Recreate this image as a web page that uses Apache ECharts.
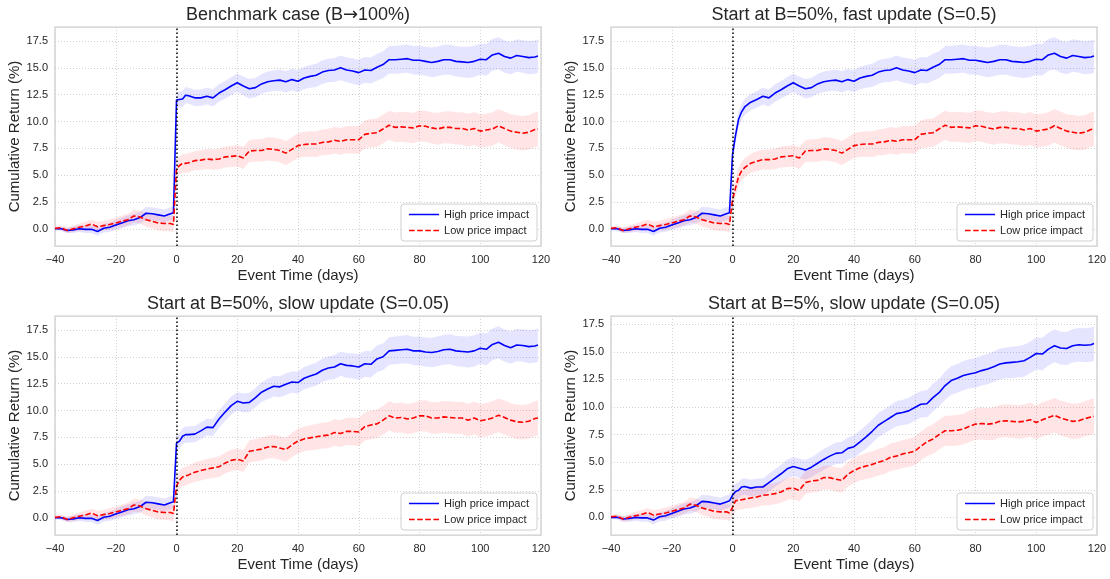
<!DOCTYPE html>
<html>
<head>
<meta charset="utf-8">
<script src="https://cdn.jsdelivr.net/npm/echarts@6/dist/echarts.min.js"></script>
<style>
  html, body { margin: 0; padding: 0; background: #fff; }
  #main { width: 1110px; height: 579px; }
</style>
</head>
<body>
<div id="main"></div>
<script>
  // event days (x values), 2-day steps except around the event
  const days = [-40,-38,-36,-34,-32,-30,-28,-26,-24,-22,-20,-18,-16,-14,-12,-10,-8,-6,-4,-2,-1,
    0,1,2,3,4,6,8,10,12,14,16,18,20,22,24,26,28,30,32,34,36,38,40,42,44,46,48,50,52,54,56,58,60,
    62,64,66,68,70,72,74,76,78,80,82,84,86,88,90,92,94,96,98,100,102,104,106,108,110,112,114,116,118,119]

  // pre-event path, same in all four panels (days -40 .. -1)
  const preHigh = [0.0,0.0,-0.15,-0.1,0.0,-0.05,-0.05,-0.25,0.05,0.15,0.35,0.55,0.75,0.85,1.05,1.45,1.4,1.3,1.2,1.4,1.5]
  const preLow = [0.05,0.1,-0.15,0.0,0.15,0.25,0.45,0.2,0.3,0.4,0.55,0.7,0.85,1.2,1.1,0.85,0.7,0.55,0.5,0.5,0.4]

  // post-event paths (days 0 .. 119)
  const benchHigh = [12.0,12.05,12.1,12.45,
    12.4,12.2,12.2,12.35,12.2,12.65,12.95,13.3,13.6,13.3,
    13.05,13.15,13.5,13.7,13.8,13.85,13.7,13.9,13.75,14.05,
    14.2,14.3,14.6,14.75,14.8,15.0,14.8,14.7,14.55,14.8,
    14.75,15.05,15.3,15.75,15.75,15.8,15.85,15.7,15.7,15.6,
    15.5,15.6,15.75,15.75,15.6,15.55,15.5,15.6,15.8,15.75,
    16.2,16.35,16.05,15.9,16.15,16.05,15.95,16.0,16.1]
  const benchLow = [5.6,5.9,6.1,6.1,
    6.15,6.35,6.4,6.5,6.45,6.5,6.7,6.75,6.8,6.6,
    7.25,7.3,7.3,7.45,7.4,7.3,7.05,7.4,7.75,7.85,
    7.9,7.9,8.05,8.1,8.25,8.15,8.3,8.3,8.3,8.8,
    8.9,8.95,9.3,9.65,9.45,9.5,9.45,9.4,9.6,9.55,
    9.4,9.3,9.45,9.45,9.35,9.35,9.2,9.35,9.1,9.2,
    9.3,9.6,9.35,9.1,9.0,8.9,9.0,9.25,9.3]
  const fastHigh = [6.9,8.7,10.2,10.9,
    11.35,11.8,12.05,12.35,12.2,12.65,12.95,13.3,13.6,13.3,
    13.05,13.15,13.5,13.7,13.8,13.85,13.7,13.9,13.75,14.05,
    14.2,14.3,14.6,14.75,14.8,15.0,14.8,14.7,14.55,14.8,
    14.75,15.05,15.3,15.75,15.75,15.8,15.85,15.7,15.7,15.6,
    15.5,15.6,15.75,15.75,15.6,15.55,15.5,15.6,15.8,15.75,
    16.2,16.35,16.05,15.9,16.15,16.05,15.95,16.0,16.1]
  const fastLow = [2.7,3.8,4.85,5.4,
    5.7,6.1,6.3,6.45,6.45,6.5,6.7,6.75,6.8,6.6,
    7.25,7.3,7.3,7.45,7.4,7.3,7.05,7.4,7.75,7.85,
    7.9,7.9,8.05,8.1,8.25,8.15,8.3,8.3,8.3,8.8,
    8.9,8.95,9.3,9.65,9.45,9.5,9.45,9.4,9.6,9.55,
    9.4,9.3,9.45,9.45,9.35,9.35,9.2,9.35,9.1,9.2,
    9.3,9.6,9.35,9.1,9.0,8.9,9.0,9.25,9.3]
  const slowHigh = [6.95,7.15,7.6,7.75,
    7.75,7.8,8.1,8.45,8.4,9.2,9.85,10.45,10.85,10.7,
    10.75,11.2,11.7,12.0,12.25,12.2,12.45,12.65,12.6,13.0,
    13.2,13.4,13.75,13.95,14.05,14.35,14.2,14.15,14.05,14.35,
    14.3,14.8,15.0,15.55,15.6,15.65,15.7,15.55,15.55,15.45,
    15.4,15.5,15.65,15.7,15.55,15.5,15.45,15.55,15.8,15.7,
    16.15,16.35,16.05,15.85,16.1,16.05,15.95,16.0,16.1]
  const slowLow = [2.95,3.5,3.8,3.9,
    4.0,4.25,4.4,4.55,4.65,4.75,5.1,5.35,5.45,5.3,
    6.2,6.3,6.4,6.6,6.65,6.5,6.35,6.8,7.15,7.35,
    7.45,7.55,7.65,7.7,7.95,7.85,8.05,8.05,8.0,8.5,
    8.65,8.75,9.1,9.5,9.3,9.35,9.2,9.3,9.5,9.5,
    9.3,9.3,9.4,9.35,9.3,9.3,9.1,9.3,9.05,9.15,
    9.3,9.55,9.35,9.1,8.95,8.9,9.0,9.25,9.3]
  const b5High = [2.0,2.35,2.45,2.75,
    2.8,2.65,2.75,2.75,3.15,3.55,3.95,4.4,4.6,4.45,
    4.3,4.55,4.9,5.25,5.55,5.8,5.85,6.25,6.4,6.85,
    7.3,7.8,8.35,8.7,9.05,9.4,9.5,9.65,9.95,10.25,
    10.3,10.85,11.3,11.95,12.4,12.6,12.85,13.0,13.1,13.3,
    13.45,13.65,13.9,14.0,14.05,14.1,14.2,14.5,14.85,14.8,
    15.25,15.55,15.35,15.3,15.55,15.65,15.6,15.65,15.75]
  const b5Low = [0.9,1.5,1.55,1.6,
    1.65,1.75,1.85,2.0,2.05,2.15,2.3,2.6,2.65,2.45,
    3.15,3.3,3.35,3.6,3.6,3.45,3.35,3.9,4.25,4.5,
    4.65,4.8,5.0,5.15,5.45,5.55,5.75,5.85,6.0,6.45,
    6.85,7.1,7.5,7.85,7.85,7.9,8.0,8.25,8.45,8.5,
    8.45,8.5,8.7,8.75,8.7,8.65,8.7,8.85,8.6,8.85,
    9.05,9.25,9.0,8.85,8.7,8.75,8.95,9.1,9.15]

  // half width of the shaded bands, per day
  const highSpread = [0.15,0.2,0.25,0.3,0.3,0.35,0.35,0.4,0.4,0.45,0.45,0.5,0.5,0.55,0.55,0.6,0.6,0.6,0.6,0.6,0.6,
    0.75,0.75,0.75,0.75,
    0.75,0.76,0.77,0.78,0.8,0.81,0.82,0.85,0.85,0.88,
    0.9,0.9,0.92,0.95,0.95,0.98,1.0,1.0,1.02,1.05,
    1.05,1.08,1.1,1.1,1.12,1.15,1.15,1.18,1.2,1.2,
    1.22,1.25,1.25,1.28,1.3,1.3,1.32,1.32,1.35,1.35,
    1.38,1.38,1.4,1.4,1.42,1.42,1.45,1.45,1.45,1.48,
    1.48,1.5,1.5,1.5,1.52,1.52,1.55,1.55,1.55]
  const lowSpread = [0.15,0.2,0.25,0.3,0.35,0.4,0.4,0.45,0.45,0.5,0.5,0.55,0.55,0.6,0.6,0.65,0.65,0.7,0.7,0.75,0.75,
    0.85,0.85,0.87,0.88,
    0.88,0.9,0.92,0.93,0.95,0.96,0.98,1.0,1.0,1.02,
    1.03,1.05,1.06,1.08,1.1,1.1,1.12,1.13,1.15,1.16,
    1.18,1.2,1.2,1.22,1.24,1.25,1.27,1.28,1.3,1.3,
    1.32,1.33,1.35,1.36,1.38,1.4,1.4,1.42,1.43,1.45,
    1.46,1.48,1.48,1.5,1.5,1.52,1.53,1.54,1.55,1.55,
    1.56,1.57,1.58,1.58,1.6,1.6,1.6,1.62,1.62]

  // the arrow goes through rich text so it gets a font that has a full-size glyph for it
  const titles = ['Benchmark case (B{arr|→}100%)', 'Start at B=50%, fast update (S=0.5)',
    'Start at B=50%, slow update (S=0.05)', 'Start at B=5%, slow update (S=0.05)']
  const highPaths = [benchHigh, fastHigh, slowHigh, b5High]
  const lowPaths = [benchLow, fastLow, slowLow, b5Low]
  const yMax = [18.8, 18.8, 18.8, 18.25]
  const yTicks = [0, 2.5, 5, 7.5, 10, 12.5, 15, 17.5]
  const HIGH = 'High price impact', LOW = 'Low price impact'

  const FONT = '"Liberation Sans", Arial, "DejaVu Sans", sans-serif'
  const INK = '#262626'
  const lefts = [55, 611, 55, 611]
  const tops = [27, 27, 316, 316]
  const W = 486, H = 219

  const pairs = vals => days.map((d, i) => [d, vals[i]])

  // shaded band as one polygon, drawn through the axis scales
  function band(i, vals, spread, fill) {
    const lower = vals.map((v, k) => v - spread[k])
    const upper = vals.map((v, k) => v + spread[k])
    return {
      type: 'custom', xAxisIndex: i, yAxisIndex: i, silent: true, z: 1,
      data: days.map((d, k) => [d, lower[k], upper[k]]),
      encode: { x: 0, y: [1, 2] },
      renderItem: (params, api) => {
        if (params.dataIndex !== 0) return null
        const pts = []
        for (let k = 0; k < days.length; k++) pts.push(api.coord([days[k], upper[k]]))
        for (let k = days.length - 1; k >= 0; k--) pts.push(api.coord([days[k], lower[k]]))
        return { type: 'polygon', shape: { points: pts }, style: { fill: fill } }
      }
    }
  }

  let grids = [], xAxes = [], yAxes = [], series = [], legends = [], titleList = []

  for (let i = 0; i < 4; i++) {
    grids.push({ left: lefts[i], top: tops[i], width: W, height: H, show: true,
      borderColor: '#cccccc', borderWidth: 1.25, backgroundColor: '#fff', outerBoundsMode: 'none' })
    xAxes.push({
      type: 'value', gridIndex: i, min: -40, max: 120, interval: 20,
      name: 'Event Time (days)', nameLocation: 'middle', nameGap: 22,
      nameTextStyle: { fontSize: 15, color: INK, fontFamily: FONT },
      axisLine: { show: false }, axisTick: { show: false },
      axisLabel: { fontSize: 11, color: INK, fontFamily: FONT, margin: 8,
        formatter: v => String(v).replace('-', '\u2212') },
      splitLine: { show: true, lineStyle: { color: '#d2d2d2', width: 1, type: [1, 2] } }
    })
    yAxes.push({
      type: 'value', gridIndex: i, min: -1.6, max: yMax[i],
      name: 'Cumulative Return (%)', nameLocation: 'middle', nameGap: 33,
      nameTextStyle: { fontSize: 15, color: INK, fontFamily: FONT },
      axisLine: { show: false },
      axisTick: { show: false, customValues: yTicks },
      axisLabel: { fontSize: 11, color: INK, fontFamily: FONT, margin: 7,
        customValues: yTicks, formatter: v => v.toFixed(1) },
      splitLine: { show: true, lineStyle: { color: '#d2d2d2', width: 1, type: [1, 2] } }
    })
    titleList.push({ text: titles[i], left: lefts[i] + W / 2, top: tops[i] - 21, textAlign: 'center',
      padding: 0, textStyle: { fontSize: 18, fontWeight: 'normal', color: INK, fontFamily: FONT,
        rich: { arr: { fontSize: 18, color: INK, fontFamily: '"DejaVu Sans"' } } } })
    legends.push({
      data: [
        { name: HIGH, icon: 'path://M0,0H30V1.5H0Z' },
        { name: LOW, icon: 'path://M0,0H5.5V1.5H0Z M8,0H13.5V1.5H8Z M16,0H21.5V1.5H16Z M24,0H29.5V1.5H24Z' }
      ],
      orient: 'vertical',
      right: i % 2 === 0 ? 573 : 17, top: tops[i] + 177,
      itemWidth: 30, itemHeight: 10, itemGap: 5,
      padding: [5, 8, 5, 8], borderColor: '#d0d0d0', borderWidth: 1, borderRadius: 3,
      backgroundColor: 'rgba(255,255,255,0.85)',
      textStyle: { fontSize: 11, color: INK, fontFamily: FONT }
    })

    const hi = preHigh.concat(highPaths[i])
    const lo = preLow.concat(lowPaths[i])
    series.push(band(i, hi, highSpread, 'rgba(0,0,255,0.1)'))
    series.push(band(i, lo, lowSpread, 'rgba(255,0,0,0.1)'))

    series.push({ type: 'line', name: HIGH, xAxisIndex: i, yAxisIndex: i, data: pairs(hi),
      symbol: 'none', lineStyle: { color: '#0000ff', width: 1.6 }, itemStyle: { color: '#0000ff' }, z: 3,
      markLine: { silent: true, symbol: ['none', 'none'], label: { show: false },
        lineStyle: { color: '#000', width: 1.5, type: [1.5, 2.5] }, data: [{ xAxis: 0 }] } })
    series.push({ type: 'line', name: LOW, xAxisIndex: i, yAxisIndex: i, data: pairs(lo),
      symbol: 'none', lineStyle: { color: '#ff0000', width: 1.6, type: [5.5, 2.4] },
      itemStyle: { color: '#ff0000' }, z: 4 })
  }

  const chart = echarts.init(document.getElementById('main'))
  chart.setOption({
    animation: false,
    backgroundColor: '#fff',
    textStyle: { fontFamily: FONT },
    title: titleList,
    legend: legends,
    grid: grids,
    xAxis: xAxes,
    yAxis: yAxes,
    series: series
  })
</script>
</body>
</html>
